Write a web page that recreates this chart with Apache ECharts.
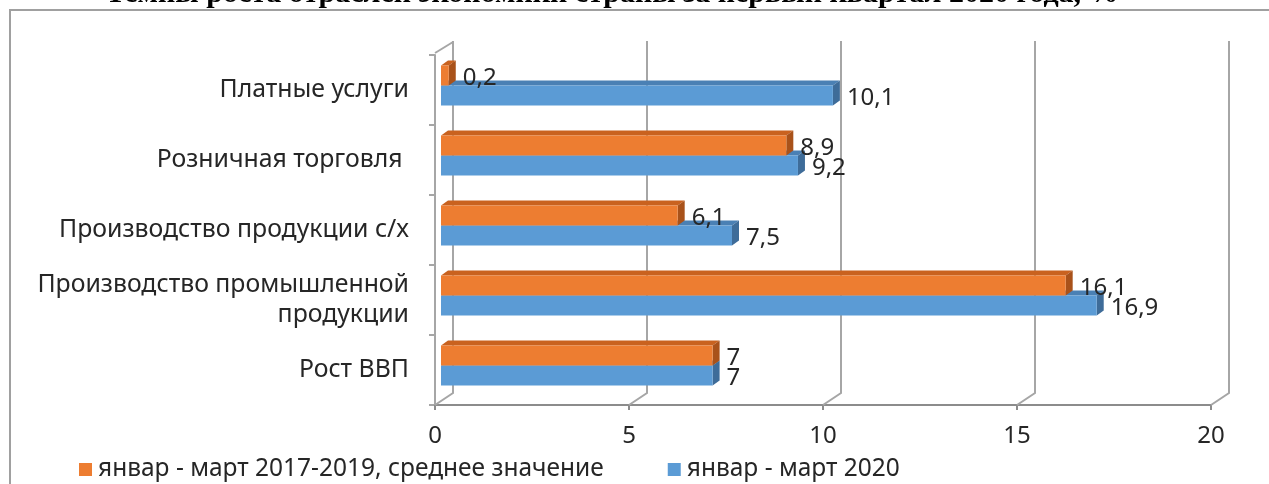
<!DOCTYPE html>
<html>
<head>
<meta charset="utf-8">
<script src="https://cdn.jsdelivr.net/npm/echarts@6/dist/echarts.min.js"></script>
<style>
  html, body { margin: 0; padding: 0; background: #fff; }
  #chart { width: 1269px; height: 484px; }
</style>
</head>
<body>
<div id="chart"></div>
<script>
// bottom -> top, as in the source chart
const categories = [
  'Рост ВВП',
  'Производство промышленной\nпродукции',
  'Производство продукции с/х',
  'Розничная торговля ',
  'Платные услуги'
];
const avg2017to2019 = [7, 16.1, 6.1, 8.9, 0.2];
const q1of2020 = [7, 16.9, 7.5, 9.2, 10.1];
const xTicks = [0, 5, 10, 15, 20];

const seriesNames = ['январ - март 2017-2019, среднее значение', 'январ - март 2020'];
const titleText = 'Темпы роста отраслей экономики страны за первый квартал 2020 года, %';

const FONT = '"Noto Sans", "DejaVu Sans", sans-serif';
const BAR_H = 20;
const LIFT = 4.5;     // bars sit a little behind the front plane
const DEPTH_X = 7, DEPTH_Y = 5;
const WALL_X = 18, WALL_Y = 12;
const fmt = (v) => String(v).replace('.', ',');

// 3d-ish horizontal bar drawn through the grid scales
function barSeries(name, values, slot, front, top, side, z) {
  return {
    type: 'custom',
    name,
    z,
    clip: false,
    itemStyle: { color: front },
    encode: { x: 0, y: 1 },
    data: values.map((v, i) => [v, i]),
    renderItem(params, api) {
      const v = api.value(0);
      const c = api.value(1);
      const p0 = api.coord([0, c]);
      const p1 = api.coord([v, c]);
      const x0 = p0[0] + 6;
      const x1 = p1[0] + 6;
      const y = p0[1] - LIFT - (slot === 0 ? BAR_H : 0);
      return {
        type: 'group',
        children: [
          {
            type: 'polygon',
            shape: { points: [[x0, y], [x0 + DEPTH_X, y - DEPTH_Y], [x1 + DEPTH_X, y - DEPTH_Y], [x1, y]] },
            style: { fill: top }
          },
          {
            type: 'polygon',
            shape: { points: [[x1, y], [x1 + DEPTH_X, y - DEPTH_Y], [x1 + DEPTH_X, y + BAR_H - DEPTH_Y], [x1, y + BAR_H]] },
            style: { fill: side }
          },
          {
            type: 'rect',
            shape: { x: x0, y: y, width: x1 - x0, height: BAR_H },
            style: { fill: front }
          },
          {
            type: 'text',
            style: {
              text: fmt(v),
              x: x1 + DEPTH_X + 7,
              y: y + BAR_H / 2 + 3,
              verticalAlign: 'middle',
              fill: '#262626',
              font: '24px ' + FONT
            }
          }
        ]
      };
    }
  };
}

const wallSeries = {
  type: 'custom',
  silent: true,
  clip: false,
  z: 1,
  encode: { x: 0, y: 1 },
  data: xTicks.map((v) => [v, 0]),
  renderItem(params, api) {
    const p = api.coord([api.value(0), 0]);
    const cs = params.coordSys;
    const yb = cs.y + cs.height;
    const yt = cs.y;
    const children = [{
      type: 'polyline',
      shape: { points: [[p[0], yb], [p[0] + WALL_X, yb - WALL_Y], [p[0] + WALL_X, yt - 14]] },
      style: { stroke: '#a6a6a6', lineWidth: 2, fill: null }
    }];
    if (api.value(0) === 0) {
      children.push({
        type: 'line',
        shape: { x1: p[0], y1: yt - 2, x2: p[0] + WALL_X, y2: yt - 13 },
        style: { stroke: '#a6a6a6', lineWidth: 2 }
      });
    }
    return { type: 'group', children };
  }
};

const chart = echarts.init(document.getElementById('chart'), null, { renderer: 'canvas' });

chart.setOption({
  backgroundColor: '#fff',
  animation: false,
  graphic: [
    {
      type: 'text',
      z: 0,
      style: {
        text: titleText,
        x: 612,
        y: 9,
        align: 'center',
        verticalAlign: 'bottom',
        fill: '#000',
        font: 'bold 30px "Liberation Serif", "DejaVu Serif", serif'
      }
    },
    {
      type: 'rect',
      z: 1,
      shape: { x: 11, y: 11, width: 1300, height: 20 },
      style: { fill: '#fff' }
    },
    {
      type: 'rect',
      z: 1,
      shape: { x: 10, y: 10, width: 1300, height: 500 },
      style: { fill: null, stroke: '#a0a0a0', lineWidth: 2 }
    }
  ],
  grid: { left: 435, right: 58, top: 55, bottom: 79 },
  xAxis: {
    type: 'value',
    min: 0,
    max: 20,
    interval: 5,
    splitLine: { show: false },
    axisLine: { show: true, lineStyle: { color: '#8c8c8c', width: 2 } },
    axisTick: { show: true, length: 5, lineStyle: { color: '#8c8c8c', width: 2 } },
    axisLabel: { fontSize: 24, color: '#262626', margin: 19, fontFamily: FONT }
  },
  yAxis: {
    type: 'category',
    data: categories,
    axisLine: { show: true, lineStyle: { color: '#a6a6a6', width: 2 } },
    axisTick: { show: true, length: 6, lineStyle: { color: '#a6a6a6', width: 2 } },
    axisLabel: { fontSize: 24.8, lineHeight: 30, color: '#262626', margin: 26, fontFamily: FONT }
  },
  legend: {
    data: seriesNames,
    left: 74,
    top: 452,
    icon: 'rect',
    itemWidth: 13,
    itemHeight: 13,
    itemGap: 64,
    textStyle: { fontSize: 24.5, color: '#262626', fontFamily: FONT, padding: [0, 0, 0, 1] }
  },
  series: [
    wallSeries,
    barSeries(seriesNames[1], q1of2020, 1, '#5b9bd5', '#4a80b4', '#3e6c99', 3),
    barSeries(seriesNames[0], avg2017to2019, 0, '#ed7d31', '#c9621f', '#a9521a', 4)
  ]
});
</script>
</body>
</html>
